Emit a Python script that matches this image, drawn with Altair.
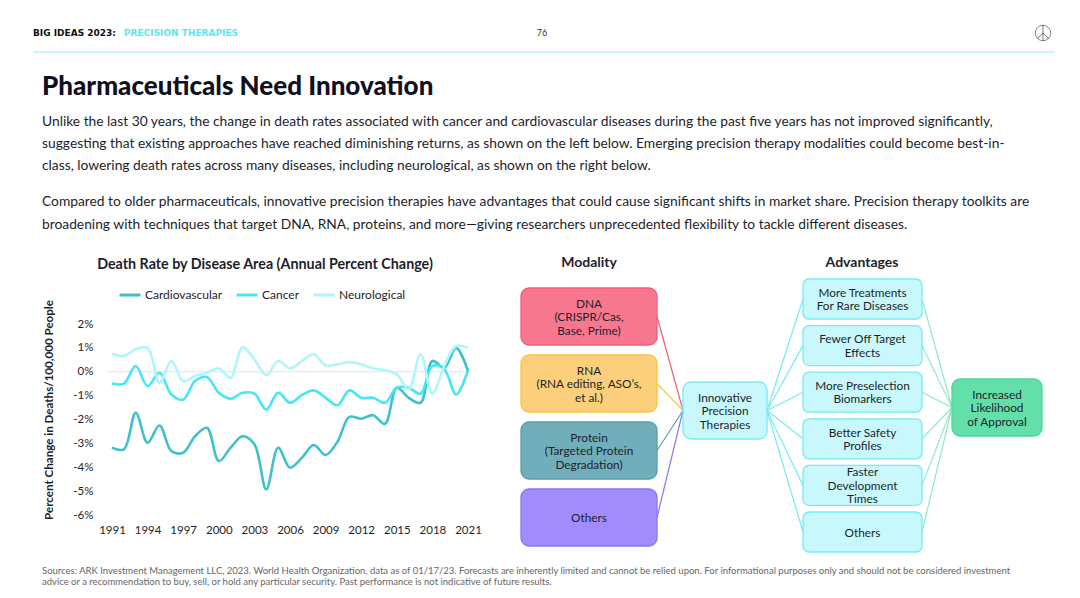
import altair as alt
import pandas as pd

# ---------------- data ----------------
years = list(range(1991, 2022))
cardio = [-3.18, -3.25, -1.72, -2.97, -2.25, -3.32, -3.39, -2.70, -2.35, -3.74,
          -3.18, -2.70, -3.04, -4.93, -3.18, -4.02, -3.60, -3.07, -3.49, -2.93,
          -1.89, -1.97, -1.82, -2.18, -0.67, -1.09, -1.30, 0.45, 0.17, 1.00, 0.03]
cancer = [-0.49, -0.50, 0.24, -0.60, -0.04, -0.95, -1.16, -0.39, -0.22, -0.88,
          -1.13, -0.88, -0.92, -1.58, -0.88, -1.30, -0.98, -0.78, -1.09, -1.40,
          -0.78, -1.09, -1.09, -1.30, -0.67, -0.67, -0.92, 0.24, 0.10, -0.95, 0.06]
neuro = [0.75, 0.66, 0.94, 1.00, -0.46, 0.45, -0.39, -0.18, -0.04, 0.14,
         -0.25, 1.03, 0.52, -0.14, 0.45, 0.14, 0.45, 0.73, 0.27, 0.31,
         0.41, 0.31, 0.14, 0.06, -0.11, -0.74, 0.73, -0.92, 0.24, 1.08, 1.00]
series_names = ["Cardiovascular", "Cancer", "Neurological"]
series_colors = ["#3EC1CC", "#45E6F5", "#AEF6FB"]
x_ticks = [1991, 1994, 1997, 2000, 2003, 2006, 2009, 2012, 2015, 2018, 2021]
y_ticks = [-6, -5, -4, -3, -2, -1, 0, 1, 2]

modality_labels = [["DNA", "(CRISPR/Cas,", "Base, Prime)"],
                   ["RNA", "(RNA  editing, ASO\u2019s,", "et al.)"],
                   ["Protein", "(Targeted Protein", "Degradation)"],
                   ["Others"]]
modality_fill = ["#F7778F", "#FCD07A", "#70AEBB", "#A08CFA"]
modality_stroke = ["#F25C7A", "#FBC440", "#5A9DAB", "#8B73F8"]
center_label = ["Innovative", "Precision", "Therapies"]
advantage_labels = [["More Treatments", "For Rare Diseases"],
                    ["Fewer Off Target", "Effects"],
                    ["More Preselection", "Biomarkers"],
                    ["Better Safety", "Profiles"],
                    ["Faster", "Development", "Times"],
                    ["Others"]]
outcome_label = ["Increased", "Likelihood", "of Approval"]

para1 = ["Unlike the last 30 years, the change in death rates associated with cancer and cardiovascular diseases during the past five years has not improved significantly,",
         "suggesting that existing approaches have reached diminishing returns, as shown on the left below. Emerging precision therapy modalities could become best-in-",
         "class, lowering death rates across many diseases, including neurological, as shown on the right below."]
para2 = ["Compared to older pharmaceuticals, innovative precision therapies have advantages that could cause significant shifts in market share. Precision therapy toolkits are",
         "broadening with techniques that target DNA, RNA, proteins, and more\u2014giving researchers unprecedented flexibility to tackle different diseases."]
footer = ["Sources: ARK Investment Management LLC, 2023. World Health Organization, data as of 01/17/23. Forecasts are inherently limited and cannot be relied upon. For informational purposes only and should not be considered investment",
          "advice or a recommendation to buy, sell, or hold any particular security. Past performance is not indicative of future results."]

# ---------------- layout ----------------
OX, OY = 112, 324          # page position of the plot's top-left corner
W, H = 356, 191
FONT = "Lato"
DARK = "#1E1E2A"
BOX_LH = 13.5

def XP(c): return alt.X(c, type="quantitative", scale=None, axis=None)
def YP(c): return alt.Y(c, type="quantitative", scale=None, axis=None)

def text_layer(rows, size, weight="normal", color=DARK, align="left", angle=None, font=FONT):
    df = pd.DataFrame(rows, columns=["t", "x", "y"])
    df["x"] = df["x"] - OX
    df["y"] = df["y"] - OY
    kw = dict(align=align, baseline="middle", fontSize=size, fontWeight=weight,
              color=color, font=font)
    if angle is not None:
        kw["angle"] = angle
    return alt.Chart(df).mark_text(**kw).encode(x=XP("x"), y=YP("y"), text="t:N")

layers = []

# ---- line chart ----
long = pd.DataFrame({
    "year": years * 3,
    "value": cardio + cancer + neuro,
    "series": sum([[n] * len(years) for n in series_names], []),
})
y_scale = alt.Scale(domain=[-6, 2], nice=False)
y_axis = alt.Axis(values=y_ticks, labelExpr="datum.value + '%'", title=None,
                  labelPadding=19, labelOverlap=False, labelFlush=False)
zero = alt.Chart(pd.DataFrame({"value": [0]})).mark_rule(color="#E2E2EC", strokeWidth=1).encode(
    y=alt.Y("value:Q", scale=y_scale, axis=y_axis), x=alt.value(-5), x2=alt.value(W + 1))
lines = alt.Chart(long).mark_line(strokeWidth=2.6, interpolate="catmull-rom").encode(
    x=alt.X("year:Q", scale=alt.Scale(domain=[1991, 2021], nice=False, zero=False),
            axis=alt.Axis(values=x_ticks, format="d", title=None, labelPadding=9,
                          labelOverlap=False, labelFlush=False)),
    y=alt.Y("value:Q", scale=y_scale, axis=y_axis),
    color=alt.Color("series:N", scale=alt.Scale(domain=series_names, range=series_colors),
                    legend=alt.Legend(orient="none", legendX=6, legendY=-41, direction="horizontal",
                                      title=None, symbolType="stroke", symbolStrokeWidth=3,
                                      symbolSize=441, labelFontSize=12, labelFont=FONT,
                                      labelColor=DARK, columnPadding=7, labelOffset=3)),
)
layers += [zero, lines]

# chart title & y title
layers.append(text_layer([["Death Rate by Disease Area (Annual Percent Change)", 265, 265]], 14.3, "bold", align="center"))
layers.append(text_layer([["Percent Change in Deaths/100,000 People", 50, 410]], 11.6, "bold", align="center", angle=270))

# ---- header ----
hdr_line = pd.DataFrame({"x": [33 - OX], "x2": [1055 - OX], "y": [52 - OY]})
layers.append(alt.Chart(hdr_line).mark_rule(color="#C9F6FA", strokeWidth=2).encode(
    x=XP("x"), x2="x2:Q", y=YP("y")))
layers.append(text_layer([["BIG IDEAS 2023:", 33, 33]], 9, "bold", color="#111111", font="DejaVu Sans"))
layers.append(text_layer([["PRECISION THERAPIES", 124, 33]], 9, "bold", color="#5DE6F2", font="DejaVu Sans"))
layers.append(text_layer([["76", 542, 33]], 9, color="#333333", align="center"))
logo = pd.DataFrame({"x": [1043 - OX], "y": [33 - OY]})
layers.append(alt.Chart(logo).mark_point(shape="circle", size=240, filled=False, color="#555555", strokeWidth=1).encode(
    x=XP("x"), y=YP("y")))
logo_lines = pd.DataFrame({"x": [1043, 1043, 1043], "y": [25, 33, 33],
                           "x2": [1043, 1037, 1049], "y2": [41, 39, 39]})
for c in ["x", "x2"]:
    logo_lines[c] -= OX
for c in ["y", "y2"]:
    logo_lines[c] -= OY
layers.append(alt.Chart(logo_lines).mark_rule(color="#555555", strokeWidth=0.8).encode(
    x=XP("x"), y=YP("y"), x2="x2:Q", y2="y2:Q"))

# ---- title & paragraphs ----
layers.append(text_layer([["Pharmaceuticals Need Innovation", 42, 87]], 26, 900, color="#0F0F1E"))
layers.append(text_layer([[t, 42, 122 + 22 * i] for i, t in enumerate(para1)], 13.8))
layers.append(text_layer([[t, 42, 202 + 23 * i] for i, t in enumerate(para2)], 13.8))
layers.append(text_layer([[t, 42, 571 + 11 * i] for i, t in enumerate(footer)], 9.5, color="#666666"))

# ---- diagram ----
boxes, conns = [], []
mod_x0, mod_x1, mod_top, mod_pitch, mod_h = 521, 657, 288, 67, 57
cen = (683, 767, 382, 439)
adv_x0, adv_x1, adv_top, adv_pitch, adv_h = 803, 922, 279, 46.6, 40
out = (952, 1042, 379, 436)
cen_cy = (cen[2] + cen[3]) / 2
out_cy = (out[2] + out[3]) / 2

for i, lab in enumerate(modality_labels):
    t = mod_top + i * mod_pitch
    boxes.append([mod_x0, mod_x1, t, t + mod_h, modality_fill[i], modality_stroke[i], lab, 8])
    conns.append([mod_x1, t + mod_h / 2, cen[0], cen_cy, modality_stroke[i]])
boxes.append([cen[0], cen[1], cen[2], cen[3], "#C8F8FC", "#76EAF5", center_label, 8])
for i, lab in enumerate(advantage_labels):
    t = adv_top + i * adv_pitch
    boxes.append([adv_x0, adv_x1, t, t + adv_h, "#C8F8FC", "#76EAF5", lab, 6])
    conns.append([cen[1], cen_cy, adv_x0, t + adv_h / 2, "#76EAF5"])
    conns.append([adv_x1, t + adv_h / 2, out[0], out_cy, "#8FEBC4"])
boxes.append([out[0], out[1], out[2], out[3], "#63DFAA", "#4ED59A", outcome_label, 8])

bdf = pd.DataFrame(boxes, columns=["x", "x2", "y", "y2", "fill", "stroke", "lines", "r"])
for c in ["x", "x2"]:
    bdf[c] -= OX
for c in ["y", "y2"]:
    bdf[c] -= OY
bdf["cx"] = (bdf["x"] + bdf["x2"]) / 2
bdf["ty"] = (bdf["y"] + bdf["y2"]) / 2 - (bdf["lines"].apply(len) - 1) * BOX_LH / 2 + 0.5
bdf["label"] = bdf["lines"].apply(lambda l: "\n".join(l))
bdf = bdf.drop(columns=["lines"])
cdf = pd.DataFrame(conns, columns=["x", "y", "x2", "y2", "color"])
for c in ["x", "x2"]:
    cdf[c] -= OX
for c in ["y", "y2"]:
    cdf[c] -= OY

layers.append(alt.Chart(cdf).mark_rule(strokeWidth=1.2).encode(
    x=XP("x"), y=YP("y"), x2="x2:Q", y2="y2:Q", color=alt.Color("color:N", scale=None)))
for r in sorted(bdf["r"].unique()):
    sub = bdf[bdf["r"] == r]
    layers.append(alt.Chart(sub).mark_rect(cornerRadius=float(r), strokeWidth=1.3).encode(
        x=XP("x"), x2="x2:Q", y=YP("y"), y2="y2:Q",
        fill=alt.Fill("fill:N", scale=None), stroke=alt.Stroke("stroke:N", scale=None)))
layers.append(alt.Chart(bdf).mark_text(align="center", baseline="middle", fontSize=11.8, font=FONT,
                                       color=DARK, lineBreak="\n", lineHeight=BOX_LH).encode(
    x=XP("cx"), y=YP("ty"), text="label:N"))

layers.append(text_layer([["Modality", 589, 263], ["Advantages", 862, 263]], 14, "bold", align="center"))

chart = alt.layer(*layers).properties(
    width=W, height=H,
    padding={"left": OX - 8, "top": OY - 8, "right": 1064 - (OX - 8) - W, "bottom": 582 - (OY - 8) - H},
    autosize=alt.AutoSizeParams(type="none"),
    background="white",
).configure_view(stroke=None).configure_axis(
    domain=False, ticks=False, grid=False, labelFont=FONT, labelFontSize=11.5, labelColor=DARK,
)

chart.save("out.html", embed_options={"renderer": "svg", "actions": False})
